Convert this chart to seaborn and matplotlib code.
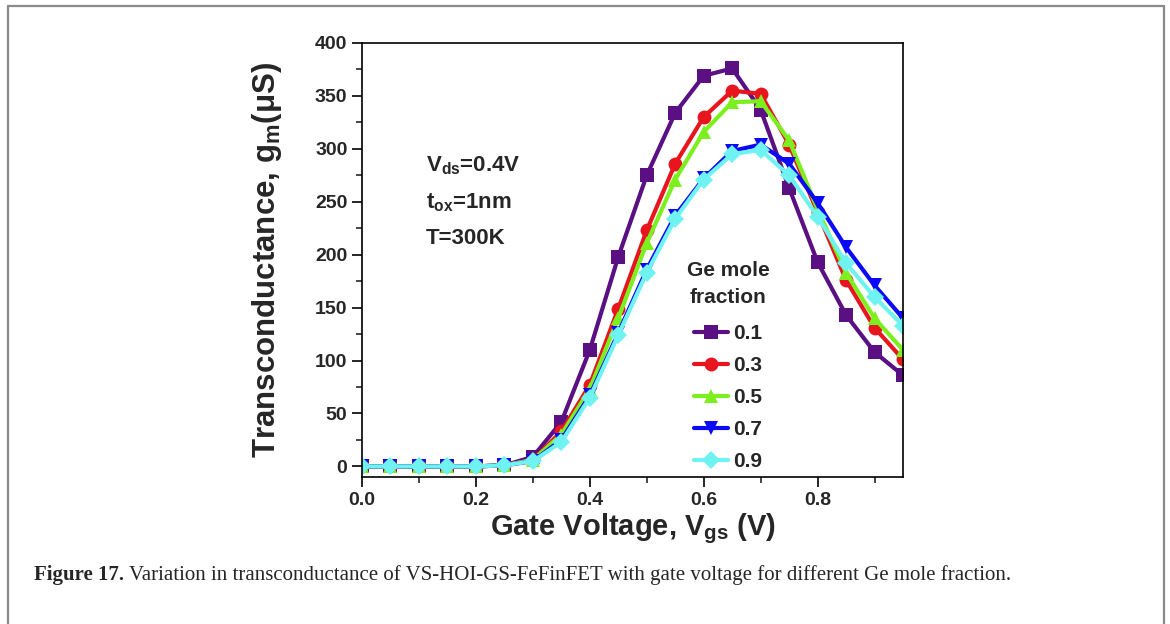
import pandas as pd
import matplotlib
matplotlib.use("Agg")
import matplotlib.pyplot as plt
import seaborn as sns
from matplotlib.lines import Line2D
from matplotlib.ticker import MultipleLocator

# Datos
vgs = [0.0, 0.05, 0.1, 0.15, 0.2, 0.25, 0.3, 0.35, 0.4, 0.45,
       0.5, 0.55, 0.6, 0.65, 0.7, 0.75, 0.8, 0.85, 0.9, 0.95]
gm_01 = [0, 0, 0, 0, 0, 1, 9, 42, 110, 198, 275, 334, 369, 376, 337, 263, 193, 143, 108, 86]
gm_03 = [0, 0, 0, 0, 0, 1, 6, 33, 77, 149, 223, 286, 330, 355, 352, 304, 240, 176, 131, 101]
gm_05 = [0, 0, 0, 0, 0, 1, 6, 30, 73, 140, 211, 271, 316, 344, 345, 308, 243, 183, 140, 110]
gm_07 = [0, 0, 0, 0, 0, 1, 5, 25, 67, 126, 186, 237, 272, 298, 304, 286, 249, 207, 171, 140]
gm_09 = [0, 0, 0, 0, 0, 1, 5, 23, 65, 124, 183, 234, 271, 295, 299, 275, 236, 192, 160, 133]
fracciones = ["0.1", "0.3", "0.5", "0.7", "0.9"]
colores = ["#5A0F82", "#E8141E", "#7CF01E", "#0A0AF5", "#6FF2F2"]
marcadores = ["s", "o", "^", "v", "D"]
tamanos = [9.5, 10, 10.5, 10.5, 9.5]

series = [gm_01, gm_03, gm_05, gm_07, gm_09]
df = pd.concat(
    [pd.DataFrame({"vgs": vgs, "gm": g, "frac": f}) for f, g in zip(fracciones, series)],
    ignore_index=True,
)

sns.set_style("ticks")
plt.rcParams["font.family"] = ["Liberation Sans", "DejaVu Sans"]
plt.rcParams["font.weight"] = "bold"
plt.rcParams["mathtext.fontset"] = "custom"
plt.rcParams["mathtext.rm"] = "Liberation Sans:bold"
plt.rcParams["mathtext.it"] = "Liberation Sans:bold"
plt.rcParams["mathtext.bf"] = "Liberation Sans:bold"

fig = plt.figure(figsize=(11.7, 6.24), dpi=100)
ax = fig.add_axes([0.3094, 0.2356, 0.4624, 0.6955])

sns.lineplot(data=df, x="vgs", y="gm", hue="frac", style="frac",
             hue_order=fracciones, style_order=fracciones,
             palette=colores, markers=marcadores, dashes=False,
             linewidth=3.0, markeredgewidth=0,
             legend=False, ax=ax)
for ln, ms in zip(ax.lines, tamanos):
    ln.set_markersize(ms)

ax.set_xlim(0, 0.95)
ax.set_ylim(-10, 400)
ax.xaxis.set_major_locator(MultipleLocator(0.2))
ax.xaxis.set_minor_locator(MultipleLocator(0.1))
ax.yaxis.set_major_locator(MultipleLocator(50))
ax.yaxis.set_minor_locator(MultipleLocator(25))
ax.xaxis.set_major_formatter(matplotlib.ticker.FormatStrFormatter("%.1f"))
ax.tick_params(axis="both", which="major", direction="out", length=7, width=1.4,
               labelsize=14, top=False, right=False)
ax.tick_params(axis="both", which="minor", direction="out", length=4, width=1.2,
               top=False, right=False)
for lab in ax.get_xticklabels() + ax.get_yticklabels():
    lab.set_fontweight("bold")
for sp in ax.spines.values():
    sp.set_visible(True)
    sp.set_linewidth(1.2)
    sp.set_color("black")

ax.set_xlabel(r"Gate Voltage, V$_{\mathrm{gs}}$ (V)", fontsize=21, fontweight="bold", labelpad=2)
ax.set_ylabel(r"Transconductance, g$_{\mathrm{m}}$(μS)", fontsize=22.5, fontweight="bold", labelpad=22)

# Condiciones
ax.text(0.118, 0.718, r"V$_{\mathrm{ds}}$=0.4V", transform=ax.transAxes, fontsize=16, fontweight="bold", va="center")
ax.text(0.118, 0.632, r"t$_{\mathrm{ox}}$=1nm", transform=ax.transAxes, fontsize=16, fontweight="bold", va="center")
ax.text(0.118, 0.550, "T=300K", transform=ax.transAxes, fontsize=16, fontweight="bold", va="center")

# Leyenda
handles = [Line2D([], [], color=c, marker=m, linewidth=3.0,
                  markersize=ms, markeredgewidth=0)
           for c, m, ms in zip(colores, marcadores, tamanos)]
leg = ax.legend(handles, fracciones, title="Ge mole\nfraction", frameon=False,
                loc="lower left", bbox_to_anchor=(0.585, -0.005),
                prop={"size": 15, "weight": "bold"},
                handlelength=1.6, handletextpad=0.25, labelspacing=0.62,
                borderaxespad=0)
leg.get_title().set_fontsize(15)
leg.get_title().set_fontweight("bold")
leg.get_title().set_multialignment("center")
leg.get_title().set_linespacing(1.55)
leg._legend_box.sep = 12

# Marco gris de la figura
marco = dict(color="#8a8a8a", linewidth=1.6, transform=fig.transFigure)
fig.add_artist(Line2D([0.0065, 0.0065], [0.99, 0.0], **marco))
fig.add_artist(Line2D([0.0065, 0.9952], [0.99, 0.99], **marco))
fig.add_artist(Line2D([0.9952, 0.9952], [0.99, 0.0], **marco))

# Pie de figura
fig.canvas.draw()
t1 = fig.text(0.029, 0.078, "Figure 17.", fontsize=15, fontweight="bold",
              family=["Liberation Serif"], va="center")
bb = t1.get_window_extent(renderer=fig.canvas.get_renderer())
x1 = bb.x1 / fig.bbox.width + 0.004
fig.text(x1, 0.078, "Variation in transconductance of VS-HOI-GS-FeFinFET with gate voltage for different Ge mole fraction.",
         fontsize=15, fontweight="normal", family=["Liberation Serif"], va="center")

fig.savefig("out.png", dpi=100)
plt.close()
